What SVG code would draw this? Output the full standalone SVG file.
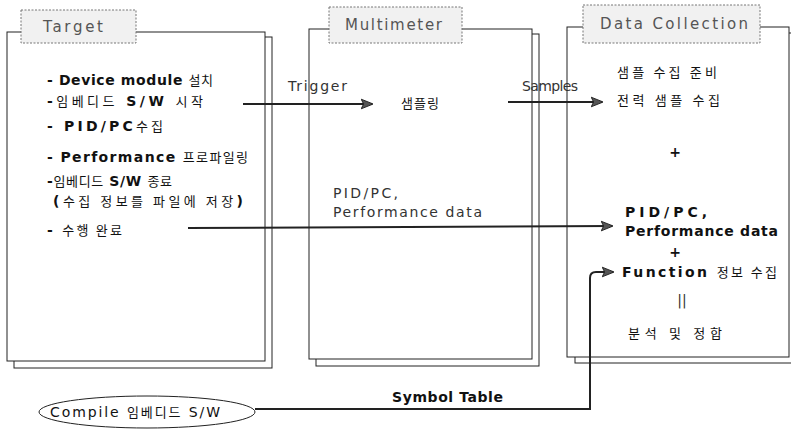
<svg xmlns="http://www.w3.org/2000/svg" width="791" height="436" viewBox="0 0 791 436">
<style>
text{font-family:"DejaVu Sans","Noto Sans CJK KR",sans-serif;fill:#111}
.page{fill:#fff;stroke:#222;stroke-width:1}
.tab{fill:#f1f1f1;stroke:#777;stroke-width:1;stroke-dasharray:2 1.5}
.title{font-size:15px;fill:#555}
.b{font-size:14px;font-weight:bold}
.k{font-family:"Noto Sans CJK KR",sans-serif;font-size:13px;font-weight:normal}
.lbl{font-size:14px;fill:#333}
.conn{fill:none;stroke:#222;stroke-width:2}
</style>
<defs>
<marker id="ah" viewBox="0 0 10 10" refX="9" refY="5" markerWidth="6" markerHeight="6" orient="auto" markerUnits="strokeWidth">
<path d="M0,1 L10,5 L0,9 L2,5 Z" fill="#555" stroke="#222" stroke-width="0.8"/>
</marker>
</defs>

<g id="target">
<rect class="page" x="14" y="37" width="258" height="331"/>
<rect class="page" x="7" y="32" width="258" height="329"/>
<rect class="tab" x="21" y="10" width="115" height="33"/>
<text class="title" x="43" y="32" textLength="60" lengthAdjust="spacing">Target</text>
<text x="47" y="85" class="b" textLength="166" lengthAdjust="spacing">- Device module <tspan class="k">설치</tspan></text>
<text x="47" y="106" class="b" textLength="156" lengthAdjust="spacing">-<tspan class="k">임베디드</tspan> S/W <tspan class="k">시작</tspan></text>
<text x="47" y="131" class="b" textLength="116" lengthAdjust="spacing">- PID/PC<tspan class="k">수집</tspan></text>
<text x="47" y="162" class="b" textLength="201" lengthAdjust="spacing">- Performance <tspan class="k">프로파일링</tspan></text>
<text x="47" y="186" class="b" textLength="125" lengthAdjust="spacing">-<tspan class="k">임베디드</tspan> S/W <tspan class="k">종료</tspan></text>
<text x="53" y="206" class="b" textLength="190" lengthAdjust="spacing">(<tspan class="k">수집 정보를 파일에 저장</tspan>)</text>
<text x="47" y="235" class="b" textLength="75" lengthAdjust="spacing">- <tspan class="k">수행 완료</tspan></text>
</g>

<g id="multimeter">
<rect class="page" x="316" y="34" width="223" height="332"/>
<rect class="page" x="309" y="29" width="223" height="330"/>
<rect class="tab" x="329" y="7" width="133" height="36"/>
<text class="title" x="345" y="30" textLength="97" lengthAdjust="spacing">Multimeter</text>
<text x="401" y="108" class="k" textLength="38" lengthAdjust="spacing">샘플링</text>
</g>

<g id="data-collection">
<rect class="page" x="575" y="33" width="221" height="330"/>
<rect class="page" x="567" y="27" width="222" height="330"/>
<rect class="tab" x="583" y="5" width="177" height="38"/>
<text class="title" x="600" y="29" textLength="148" lengthAdjust="spacing">Data Collection</text>
<text x="617" y="77" class="k" textLength="100" lengthAdjust="spacing">샘플 수집 준비</text>
<text x="617" y="105" class="k" textLength="103" lengthAdjust="spacing">전력 샘플 수집</text>
<text x="675" y="157" class="b" text-anchor="middle">+</text>
<text x="625" y="217" class="b" textLength="82" lengthAdjust="spacing">PID/PC,</text>
<text x="625" y="236" class="b" textLength="153" lengthAdjust="spacing">Performance data</text>
<text x="675" y="257" class="b" text-anchor="middle">+</text>
<text x="622" y="277" class="b" textLength="155" lengthAdjust="spacing">Function <tspan class="k">정보 수집</tspan></text>
<text x="682" y="305" class="lbl" text-anchor="middle">||</text>
<text x="628" y="338" class="k" textLength="94" lengthAdjust="spacing">분석 및 정합</text>
</g>

<g id="compile">
<ellipse cx="147" cy="412" rx="108" ry="16" fill="#fff" stroke="#222" stroke-width="1"/>
<text x="50" y="417" class="lbl" style="fill:#111" textLength="170" lengthAdjust="spacing">Compile <tspan class="k">임베디드</tspan> S/W</text>
</g>

<g id="connectors">
<line class="conn" x1="243" y1="104" x2="372" y2="104" marker-end="url(#ah)"/>
<line class="conn" x1="508" y1="102" x2="602" y2="102" marker-end="url(#ah)"/>
<line class="conn" x1="188" y1="228" x2="612" y2="226" marker-end="url(#ah)"/>
<path class="conn" d="M255,409 L590,409 L590,278 Q590,272 596,272 L613,272" marker-end="url(#ah)"/>
<text x="288" y="91" class="lbl" textLength="59" lengthAdjust="spacing">Trigger</text>
<text x="522" y="91" class="lbl" textLength="56" lengthAdjust="spacing">Samples</text>
<text x="333" y="198" class="lbl" textLength="65" lengthAdjust="spacing">PID/PC,</text>
<text x="333" y="217" class="lbl" textLength="149" lengthAdjust="spacing">Performance data</text>
<text x="392" y="402" class="b" textLength="111" lengthAdjust="spacing">Symbol Table</text>
</g>
</svg>
